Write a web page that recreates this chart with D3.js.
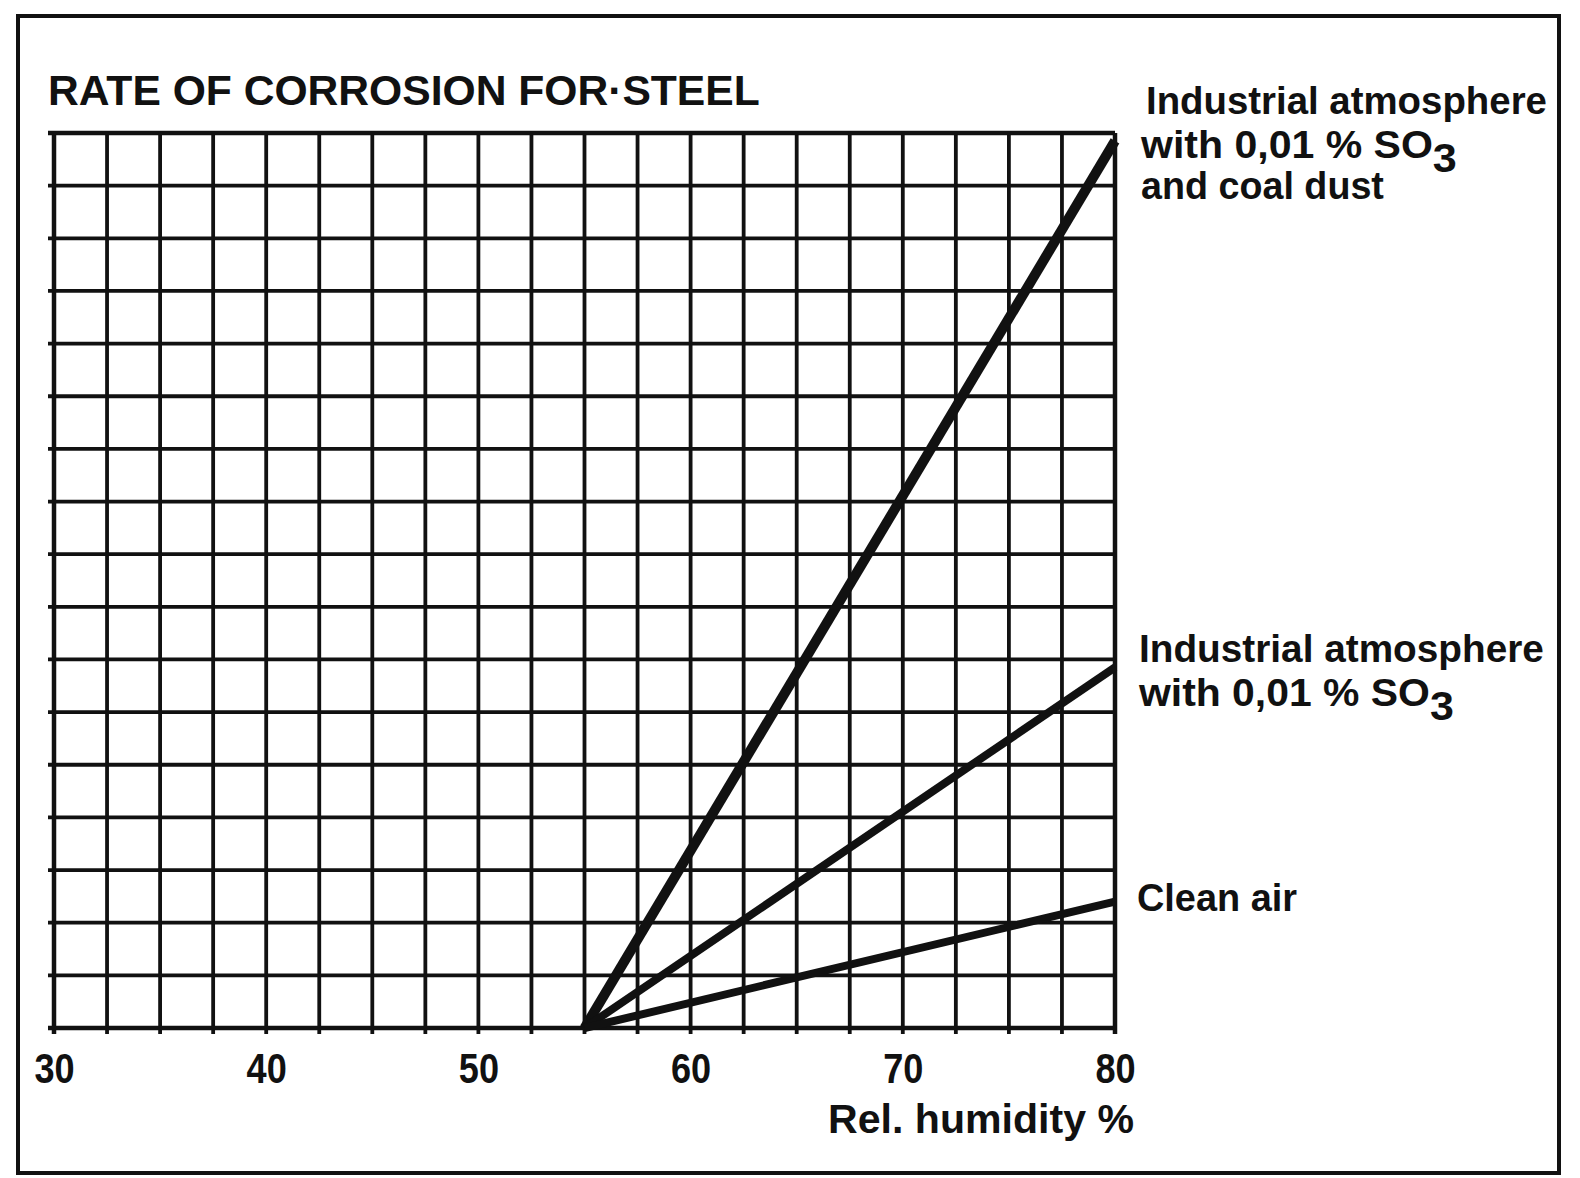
<!DOCTYPE html>
<html>
<head>
<meta charset="utf-8">
<script src="https://cdn.jsdelivr.net/npm/d3@7"></script>
<style>
  body { margin: 0; background: #fff; }
  text { font-family: "Liberation Sans Narrow", "Liberation Sans", Arial, sans-serif; font-weight: bold; fill: #111; }
</style>
</head>
<body>
<div id="chart"></div>
<script>

// data
var humidity = [55, 80];
var coalDust = [0, 16.85];   // industrial atmosphere, SO3 + coal dust
var so3 = [0, 6.85];         // industrial atmosphere, SO3
var cleanAir = [0, 2.4];

var xGrid = d3.range(30, 80.01, 2.5);
var yGrid = d3.range(0, 17.01, 1);
var xLabels = [30, 40, 50, 60, 70, 80];

var seriesList = [
  {name: "coal", values: coalDust, width: 10},
  {name: "so3", values: so3, width: 8},
  {name: "clean", values: cleanAir, width: 8}
];

// set the dimensions and margins of the graph
var margin = {top: 133, left: 54},
	width = 1115 - 54,
	height = 1028 - 133;

var svg = d3.select("#chart")
  .append("svg")
	.attr("width", 1580)
	.attr("height", 1178);

// outer frame
svg.append("rect")
  .attr("x", 18).attr("y", 16)
  .attr("width", 1559 - 18).attr("height", 1173 - 16)
  .attr("fill", "none")
  .attr("stroke", "#111")
  .attr("stroke-width", 4);

var g = svg.append("g")
	.attr("transform", "translate(" + margin.left + "," + margin.top + ")");

var x = d3.scaleLinear().domain([30, 80]).range([0, width]);
var y = d3.scaleLinear().domain([0, 17]).range([height, 0]);

// grid, vertical lines with small stubs below
g.append("g")
  .selectAll("line")
  .data(xGrid)
  .enter()
  .append("line")
	.attr("x1", function (d) { return x(d); })
	.attr("x2", function (d) { return x(d); })
	.attr("y1", 0)
	.attr("y2", height + 6)
	.attr("stroke", "#111")
	.attr("stroke-width", function (d) { return (d == 30 || d == 80) ? 4.5 : 3.8; });

// grid, horizontal lines with small stubs on the left
g.append("g")
  .selectAll("line")
  .data(yGrid)
  .enter()
  .append("line")
	.attr("x1", -6)
	.attr("x2", width)
	.attr("y1", function (d) { return y(d); })
	.attr("y2", function (d) { return y(d); })
	.attr("stroke", "#111")
	.attr("stroke-width", function (d) { return (d == 0 || d == 17) ? 4.5 : 3.8; });

// x axis labels
var xAxis = g.append("g")
	.attr("transform", "translate(0," + height + ")")
	.call(d3.axisBottom(x).tickValues(xLabels).tickSize(0).tickPadding(25).tickFormat(d3.format("d")));
xAxis.select(".domain").remove();
xAxis.attr("font-family", null);
xAxis.selectAll("text")
	.attr("font-size", 42)
	.attr("font-family", null)
	.attr("fill", "#111")
	.attr("transform", "scale(0.86,1)");

// corrosion lines
var line = d3.line()
	.x(function (d) { return x(d[0]); })
	.y(function (d) { return y(d[1]); });

seriesList.forEach(function (s) {
  g.append("path")
	.datum(humidity.map(function (h, i) { return [h, s.values[i]]; }))
	.attr("d", line)
	.attr("fill", "none")
	.attr("stroke", "#111")
	.attr("stroke-width", s.width)
	.attr("stroke-linecap", "butt");
});

// stretch a text to a given width
function fitWidth(t, x0, w)
{
	var bw = t.node().getBBox().width;
	var sx = w / bw;
	t.attr("transform", "translate(" + x0 + ",0) scale(" + sx + ",1) translate(" + (-x0) + ",0)");
}

function addText(str, x0, y0, size, w)
{
	var t = svg.append("text")
	  .attr("x", x0)
	  .attr("y", y0)
	  .attr("font-size", size)
	  .text(str);
	if (w) fitWidth(t, x0, w);
	return t;
}

function addSO3(x0, y0, size, w)
{
	var t = svg.append("text")
	  .attr("x", x0)
	  .attr("y", y0)
	  .attr("font-size", size);
	t.append("tspan").text("with 0,01 % SO");
	t.append("tspan").attr("dy", 14).attr("font-size", size + 2).text("3");
	fitWidth(t, x0, w);
	return t;
}

// title
addText("RATE OF CORROSION FOR\u00B7STEEL", 48, 105, 42, 712);

// series labels
addText("Industrial atmosphere", 1146, 114, 39, 401);
addSO3(1141, 158, 39, 317);
addText("and coal dust", 1141, 199, 39, 243);

addText("Industrial atmosphere", 1139, 662, 39, 405);
addSO3(1139, 706, 39, 316);

addText("Clean air", 1137, 911, 39, 160);

// x axis title
addText("Rel. humidity %", 828, 1133, 40, 306);

</script>
</body>
</html>
